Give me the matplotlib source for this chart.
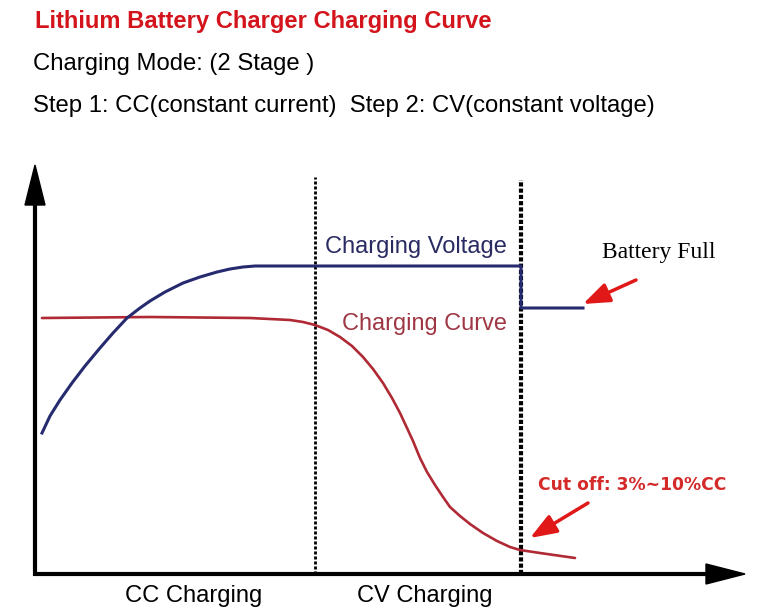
import matplotlib
matplotlib.use('Agg')
import matplotlib.pyplot as plt
from matplotlib.patches import Polygon

# charging voltage (time, level)
volt_t = [7, 15, 25, 37, 50, 65, 78, 92, 105, 115, 130, 148, 165, 182, 195, 208, 220, 265,
          486, 486, 548]
volt_v = [141, 158, 174, 191, 208, 226, 241, 256, 266, 273, 282, 291, 297, 302, 305, 307, 308,
          308, 308, 266, 266]

# charging current
curr_t = [7, 115, 215, 255, 268, 280, 293, 305, 317, 328, 338, 348, 357, 365, 372, 378, 385,
          392, 400, 408, 415, 425, 435, 448, 462, 475, 485, 505, 540]
curr_v = [256, 257, 256, 254, 252, 249, 244, 237, 228, 217, 205, 191, 176, 161, 146, 133, 116,
          102, 89, 77, 67, 58, 50, 41, 33, 27, 24, 21, 16]

# stage borders
stage_t = [280, 486]
stage_top = [397, 394]

title = 'Lithium Battery Charger Charging Curve'
line1 = 'Charging Mode: (2 Stage )'
line2 = 'Step 1: CC(constant current)  Step 2: CV(constant voltage)'
stage_labels = ['CC Charging', 'CV Charging']

fig = plt.figure(figsize=(7.63, 6.16), dpi=100)
ov = fig.add_axes([0, 0, 1, 1])
ov.set_xlim(0, 763)
ov.set_ylim(616, 0)
ov.axis('off')

ax = fig.add_axes([35 / 763, 42 / 616, 710 / 763, 409 / 616])
ax.set_xlim(0, 710)
ax.set_ylim(0, 409)
ax.axis('off')

# axes with arrow heads
ax.plot([-2, 671], [0, 0], color='black', lw=3, solid_capstyle='butt', clip_on=False)
ax.plot([0, 0], [-2, 369], color='black', lw=3, solid_capstyle='butt', clip_on=False)
ax.add_patch(Polygon([(671, 10), (671, -10), (710, 0)], color='black', clip_on=False))
ax.add_patch(Polygon([(-10, 369), (10, 369), (0, 409)], color='black', clip_on=False))

# stage borders
ax.plot([stage_t[0]] * 2, [0, stage_top[0]], color='black', lw=2,
        dashes=(1.1, 0.7), clip_on=False)
ax.plot([stage_t[1]] * 2, [0, stage_top[1]], color='black', lw=3,
        dashes=(1.0, 0.5), clip_on=False)

ax.plot(curr_t, curr_v, color='#b02a35', lw=1.9, solid_joinstyle='round',
        solid_capstyle='round', clip_on=False)
ax.plot(volt_t, volt_v, color='#262a6e', lw=2.2, solid_joinstyle='round', clip_on=False)

fig.canvas.draw()
rend = fig.canvas.get_renderer()


def put(x, y, s, width, **kw):
    t = ov.text(x, y, s, va='baseline', ha='left', fontsize=14, **kw)
    w = t.get_window_extent(rend).width
    t.set_fontsize(14 * width / w)
    return t


sans = 'Liberation Sans'
put(35, 28, title, 458, family=sans, weight='bold', color='#d3141c')
put(33, 70, line1, 283, family=sans, color='black')
put(33, 112, line2, 626, family=sans, color='black')
put(325, 253, 'Charging Voltage', 183, family=sans, color='#2a2b62')
put(342, 330, 'Charging Curve', 166, family=sans, color='#9e3644')
put(602, 258, 'Battery Full', 114, family='Liberation Serif', color='black')
put(538, 490, 'Cut off: 3%~10%CC', 189, family='DejaVu Sans', weight='bold', color='#d42a2a')
put(125, 602, stage_labels[0], 138, family=sans, color='black')
put(357, 602, stage_labels[1], 136, family=sans, color='black')

arrow = dict(arrowstyle='-|>,head_length=1.6,head_width=0.6', color='#e01818',
             lw=2.5, shrinkA=0, shrinkB=0)
ov.annotate('', xy=(583, 304), xytext=(636, 280), arrowprops=arrow)
ov.annotate('', xy=(530, 538), xytext=(588, 503), arrowprops=arrow)

fig.savefig('out.png', dpi=100)
